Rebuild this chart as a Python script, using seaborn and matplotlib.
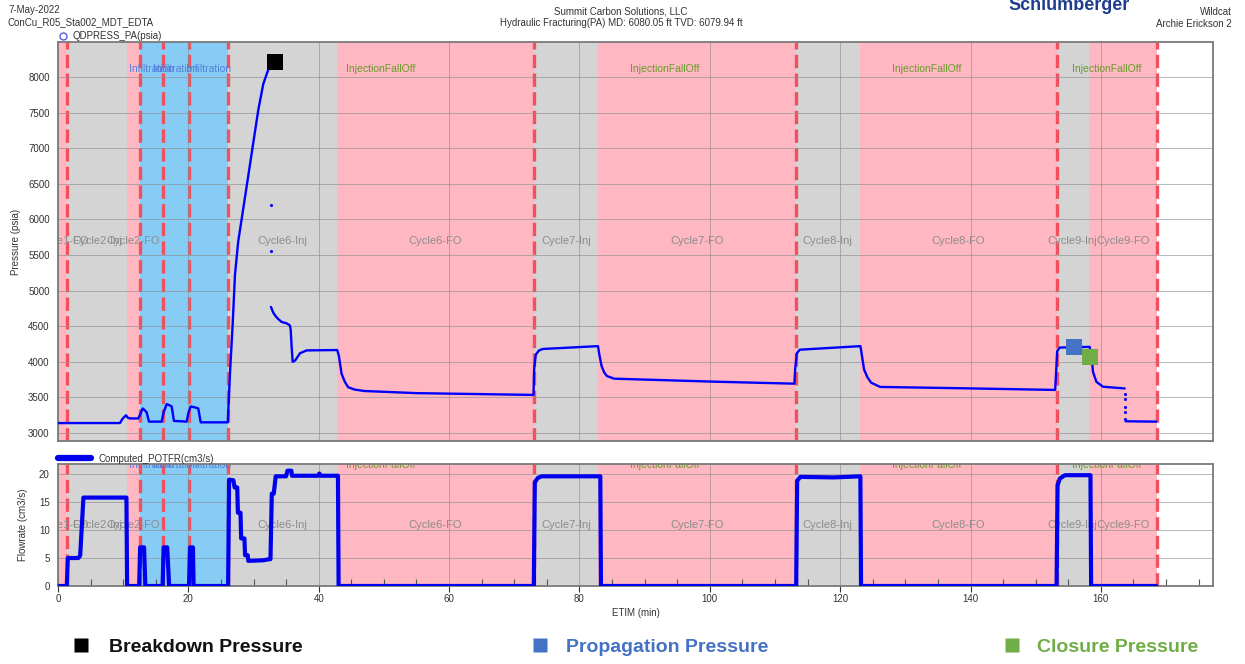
import numpy as np
import pandas as pd
import matplotlib
matplotlib.use("Agg")
import matplotlib.pyplot as plt
import matplotlib.transforms as mtransforms
from matplotlib.lines import Line2D
import seaborn as sns

# ---------------------------------------------------------------- data
# test phases (start / end in minutes, kind, label)
phase_start = [0, 1.4, 10.6, 12.6, 16.1, 20.1, 26.1, 42.8, 73.0, 82.8, 113.2, 123.0, 153.2, 158.1]
phase_end = [1.4, 10.6, 12.6, 16.1, 20.1, 26.1, 42.8, 73.0, 82.8, 113.2, 123.0, 153.2, 158.1, 168.6]
phase_kind = ["FO", "Inj", "FO", "Infil", "Infil", "Infil", "Inj", "FO", "Inj", "FO", "Inj", "FO", "Inj", "FO"]
phase_label = ["Cycle1-FO", "Cycle2-Inj", "Cycle2-FO", "", "", "", "Cycle6-Inj", "Cycle6-FO",
               "Cycle7-Inj", "Cycle7-FO", "Cycle8-Inj", "Cycle8-FO", "Cycle9-Inj", "Cycle9-FO"]

# stage names shown along the top
stage_name = ["Infiltration", "Infiltration", "Infiltration", "InjectionFallOff",
              "InjectionFallOff", "InjectionFallOff", "InjectionFallOff"]
stage_start = [12.6, 16.1, 20.1, 26.1, 73.0, 113.2, 153.2]
stage_end = [16.1, 20.1, 26.1, 73.0, 113.2, 153.2, 168.6]

# dashed event markers (min)
event_times = [1.4, 12.6, 16.1, 20.1, 26.1, 73.0, 113.2, 153.2, 168.6]

# QDPRESS_PA pressure trace (psia), three continuous pieces
pa_t = [0, 9.5, 9.9, 10.43, 10.7, 11.04, 12.32, 12.6, 12.99, 13.3, 13.6, 13.96, 15.9, 16.2,
        16.67, 17.1, 17.44, 17.79, 19.74, 20.0, 20.35, 21.0, 21.52, 21.89, 26.05, 26.38, 26.8,
        27.15, 27.65, 28.42, 29.19, 29.95, 30.72, 31.49, 32.25]
pa_p = [3140, 3140, 3200, 3250, 3215, 3205, 3205, 3260, 3345, 3320, 3290, 3160, 3160, 3290,
        3405, 3390, 3373, 3170, 3160, 3280, 3373, 3360, 3345, 3150, 3150, 3830, 4530,
        5220, 5690, 6150, 6610, 7070, 7530, 7900, 8100]

pb_t = [32.67, 33.02, 33.4, 33.79, 34.3, 35.08, 35.58, 35.7, 35.85, 36.0, 36.4, 37.12, 38.14,
        42.84, 43.1, 43.51, 44.0, 44.52, 45.5, 47.0, 55.0, 72.95, 73.05, 73.3, 73.8, 74.37,
        82.85, 83.05, 83.4, 83.8, 84.22, 85.32, 100.66, 112.98, 113.1, 113.35, 113.8, 123.11,
        123.35, 123.67, 124.2, 124.75, 126.13, 139.0, 152.98, 153.1, 153.3, 153.68, 158.28,
        158.6, 158.79, 159.31, 160.32, 163.65]
pb_p = [4770, 4690, 4640, 4600, 4560, 4540, 4510, 4450, 4200, 4000, 4020, 4120, 4160,
        4165, 4080, 3830, 3720, 3643, 3610, 3590, 3560, 3535, 3900, 4100, 4160, 4180,
        4220, 4100, 3940, 3850, 3800, 3763, 3721, 3693, 3900, 4120, 4170, 4220,
        4080, 3890, 3780, 3707, 3647, 3628, 3605, 3800, 4150, 4200, 4210,
        4050, 3858, 3719, 3650, 3626]

pc_t = [163.8, 168.5]
pc_p = [3165, 3160]

# isolated pressure samples
dot_t = [32.67, 32.67, 163.65, 163.65, 163.65, 163.65, 163.65]
dot_p = [6200, 5560, 3546, 3477, 3365, 3296, 3198]

# picked pressures
pick_name = ["Breakdown Pressure", "Propagation Pressure", "Closure Pressure"]
pick_t = [33.28, 155.87, 158.28]
pick_p = [8210, 4207, 4067]
pick_color = ["#000000", "#4472c4", "#70ad47"]

# Computed_POTFR flow rate (cm3/s)
q_t = [0, 1.35, 1.5, 3.1, 3.4, 3.9, 10.5, 10.6, 12.45, 12.6, 13.2, 13.4, 16.05, 16.2, 16.75,
       17.05, 20.1, 20.25, 20.7, 20.8, 26.1, 26.25, 26.9, 27.1, 27.5, 27.6, 28.0, 28.1, 28.6,
       28.7, 29.1, 29.2, 29.5, 31.5, 32.5, 32.6, 32.8, 33.1, 33.4, 35.0, 35.2, 35.8, 35.9,
       39.9, 40.1, 40.3, 42.95, 43.05, 73.0, 73.15, 73.6, 74.2, 83.2, 83.3, 113.25, 113.4,
       113.9, 119.0, 123.1, 123.2, 153.2, 153.35, 153.7, 154.5, 158.4, 158.5, 168.5]
q_v = [0, 0, 5, 5, 5.4, 15.8, 15.8, 0, 0, 6.9, 6.9, 0, 0, 6.9, 6.9,
       0, 0, 6.9, 6.9, 0, 0, 19.0, 18.9, 17.6, 17.6, 13.1, 13.1, 8.5, 8.5,
       5.5, 5.5, 4.5, 4.5, 4.6, 4.8, 4.8, 16.5, 16.5, 19.6, 19.6, 20.6, 20.6, 19.7,
       19.7, 20.1, 19.7, 19.7, 0, 0, 18.5, 19.3, 19.6, 19.6, 0, 0, 18.8,
       19.5, 19.4, 19.6, 0, 0, 18.0, 19.2, 19.8, 19.8, 0, 0]

x_ticks = [0, 20, 40, 60, 80, 100, 120, 140, 160]
p_ticks = [3000, 3500, 4000, 4500, 5000, 5500, 6000, 6500, 7000, 7500, 8000]
q_ticks = [0, 5, 10, 15, 20]

# ---------------------------------------------------------------- style
sns.set_style("white")
plt.rcParams["font.family"] = ["Liberation Sans", "DejaVu Sans"]
plt.rcParams["font.size"] = 7

PHASE_COLOR = {"FO": "#ffb7c2", "Inj": "#d4d4d4", "Infil": "#86ccf4"}
EVENT_COLOR = "#f2505e"
LINE_BLUE = "#0000ff"
GRID = "#8f8f8f"
FRAME = "#7a7a7a"

W, H = 1245, 664
fig = plt.figure(figsize=(W / 100, H / 100), dpi=100)


def fig_rect(l, t, r, b):
    return [l / W, 1 - b / H, (r - l) / W, (b - t) / H]


ax_p = fig.add_axes(fig_rect(58, 42, 1213, 441))
ax_q = fig.add_axes(fig_rect(58, 464, 1213, 586))

XMAX = 177.2
for ax in (ax_p, ax_q):
    ax.set_xlim(0, XMAX)
    ax.set_axisbelow("line")
    for s0, s1, kind in zip(phase_start, phase_end, phase_kind):
        ax.axvspan(s0, s1, color=PHASE_COLOR[kind], lw=0, zorder=0)
    for et in event_times:
        ax.axvline(et, color=EVENT_COLOR, lw=2.4, ls=(0, (4, 1.6)), zorder=1.2)
    ax.grid(True, color=GRID, lw=0.6, alpha=0.75)
    for sp in ax.spines.values():
        sp.set_color(FRAME)
        sp.set_linewidth(1.3)
    ax.set_xticks(x_ticks)
    ax.set_xticks(np.arange(0, XMAX, 5), minor=True)
    ax.tick_params(which="major", direction="out", length=4, width=0.8, colors="#333333",
                   labelsize=7, pad=2)
    ax.tick_params(which="minor", direction="in", length=5, width=0.8, colors="#555555")
    ax.tick_params(axis="x", which="both", bottom=True)
    tr = mtransforms.blended_transform_factory(ax.transData, ax.transAxes)
    # phase labels, centred in each phase
    for s0, s1, lab in zip(phase_start, phase_end, phase_label):
        if lab:
            ax.text((s0 + s1) / 2, 0.5, lab, transform=tr, ha="center", va="center",
                    color="#8c8c8c", fontsize=8, clip_on=True, zorder=1.6)
    # stage labels along the top
    ytop = 0.932 if ax is ax_p else 0.995
    for s0, s1, name in zip(stage_start, stage_end, stage_name):
        col = "#5580dc" if name == "Infiltration" else "#6a9a2a"
        ax.text((s0 + s1) / 2, ytop, name, transform=tr, ha="center", va="center",
                color=col, fontsize=7.5, clip_on=True, zorder=1.6)

# ---------------------------------------------------------------- pressure
press = pd.DataFrame({
    "t": pa_t + pb_t + pc_t,
    "p": pa_p + pb_p + pc_p,
    "seg": ["a"] * len(pa_t) + ["b"] * len(pb_t) + ["c"] * len(pc_t),
})
sns.lineplot(data=press, x="t", y="p", units="seg", estimator=None, sort=False,
             color=LINE_BLUE, lw=1.7, ax=ax_p, zorder=3)
sns.scatterplot(x=dot_t, y=dot_p, color=LINE_BLUE, s=5, linewidth=0, ax=ax_p, zorder=3)
sns.scatterplot(x=pick_t, y=pick_p, hue=pick_name, palette=dict(zip(pick_name, pick_color)),
                marker="s", s=135, linewidth=0, legend=False, ax=ax_p, zorder=4)

ax_p.set_ylim(2888, 8490)
ax_p.set_yticks(p_ticks)
ax_p.set_yticks(np.arange(2900, 8500, 100), minor=True)
ax_p.tick_params(axis="x", which="both", labelbottom=False, length=0)
ax_p.set_xlabel("")
ax_p.set_ylabel("Pressure (psia)", fontsize=7, labelpad=5, color="#333333")

h_p = Line2D([], [], marker="o", ls="none", mfc="none", mec="#5a5ae6", ms=5, mew=1)
ax_p.legend([h_p], ["QDPRESS_PA(psia)"], loc="lower left", bbox_to_anchor=(0.0, 1.0),
             borderaxespad=0.0, borderpad=0.1, frameon=False, fontsize=7,
             handlelength=0.8, handletextpad=0.6, labelcolor="#333333")

# ---------------------------------------------------------------- flow rate
sns.lineplot(x=q_t, y=q_v, sort=False, estimator=None, color="#0000ee", lw=3.0,
             ax=ax_q, zorder=3)
ax_q.set_ylim(0, 21.8)
ax_q.set_yticks(q_ticks)
ax_q.set_yticks(np.arange(0, 21.8, 1), minor=True)
ax_q.set_ylabel("Flowrate (cm3/s)", fontsize=7, labelpad=8, color="#333333")
ax_q.set_xlabel("ETIM (min)", fontsize=7, labelpad=3, color="#333333")

h_q = Line2D([], [], color="#0000ee", lw=4.5)
ax_q.legend([h_q], ["Computed_POTFR(cm3/s)"], loc="lower left", bbox_to_anchor=(0.0, 1.0),
            borderaxespad=0.0, borderpad=0.05, frameon=False, fontsize=7,
            handlelength=3.3, handletextpad=0.8, labelcolor="#333333")

# ---------------------------------------------------------------- header
def ftext(x, y, s, **kw):
    fig.text(x / W, 1 - y / H, s, **kw)


hdr = dict(fontsize=7, color="#333333", va="center")
ftext(8, 10, "7-May-2022", ha="left", **hdr)
ftext(8, 22, "ConCu_R05_Sta002_MDT_EDTA", ha="left", **hdr)
ftext(621, 11, "Summit Carbon Solutions, LLC", ha="center", **hdr)
ftext(621, 23, "Hydraulic Fracturing(PA) MD: 6080.05 ft TVD: 6079.94 ft", ha="center", **hdr)
ftext(1232, 12, "Wildcat", ha="right", **hdr)
ftext(1232, 24, "Archie Erickson 2", ha="right", **hdr)
ftext(1008, 10, "Schlumberger", ha="left", va="baseline", fontsize=13,
      fontweight="bold", color="#1f3d8c")

# ---------------------------------------------------------------- pick key
key_sq = [81, 540, 1012]
key_tx = [109, 566, 1037]
for name, col, xs, xt in zip(pick_name, pick_color, key_sq, key_tx):
    fig.add_artist(Line2D([xs / W], [1 - 645 / H], transform=fig.transFigure, marker="s",
                          ms=10.5, mfc=col, mec="none", ls="none"))
    ftext(xt, 648, name, ha="left", va="center", fontsize=14, fontweight="bold",
          color=col if col != "#000000" else "#111111")

fig.savefig("out.png", dpi=100)
